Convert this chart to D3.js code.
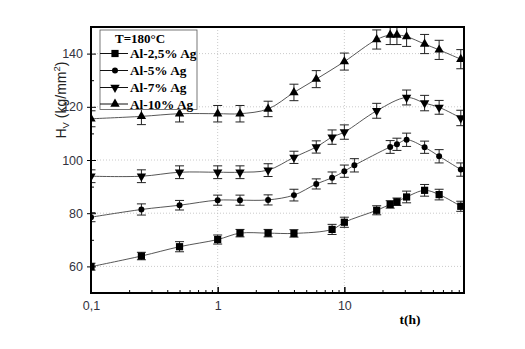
<!DOCTYPE html>
<html><head><meta charset="utf-8">
<script src="https://cdn.jsdelivr.net/npm/d3@7"></script>
<style>
html,body{margin:0;padding:0;background:#fff;}
svg{display:block;}
</style>
</head><body>
<svg id="chart" width="525" height="349"></svg>
<script>
// ---- data ----
const seriesNames = ["Al-2,5% Ag", "Al-5% Ag", "Al-7% Ag", "Al-10% Ag"];
const legendTitle = "T=180°C";

const t25 = [0.1, 0.25, 0.5, 1, 1.5, 2.5, 4, 8, 10, 18, 23, 26, 31, 43, 56, 83];
const hv25 = [59.9, 63.9, 67.4, 70.1, 72.5, 72.5, 72.4, 73.9, 76.6, 81.1, 83.3, 84.3, 86.1, 88.6, 87.0, 82.6];
const err25 = [1.3, 1.4, 1.9, 1.7, 1.4, 1.4, 1.4, 1.9, 1.9, 1.7, 1.4, 1.4, 2.2, 2.2, 2.0, 1.9];

const t5 = [0.1, 0.25, 0.5, 1, 1.5, 2.5, 4, 6, 8, 10, 12, 23, 26, 31, 43, 56, 83];
const hv5 = [78.5, 81.4, 83.0, 84.9, 84.9, 85.0, 86.8, 91.0, 93.3, 95.8, 98.0, 104.9, 105.9, 107.6, 104.8, 101.4, 96.4];
const err5 = [1.7, 2.1, 1.8, 1.9, 1.9, 1.9, 2.2, 1.9, 2.2, 2.3, 2.5, 2.4, 2.3, 2.5, 2.3, 2.5, 2.5];

const t7 = [0.1, 0.25, 0.5, 1, 1.5, 2.5, 4, 6, 8, 10, 18, 31, 43, 56, 83];
const hv7 = [93.9, 93.9, 95.4, 95.4, 95.4, 96.2, 101.0, 104.9, 108.6, 110.5, 118.5, 123.5, 121.4, 119.8, 115.8];
const err7 = [2.4, 2.4, 2.4, 2.4, 2.4, 2.4, 2.3, 2.3, 2.7, 2.7, 2.8, 2.8, 2.9, 2.6, 2.9];

const t10 = [0.1, 0.25, 0.5, 1, 1.5, 2.5, 4, 6, 10, 18, 23, 26, 31, 43, 56, 83];
const hv10 = [115.5, 116.4, 117.4, 117.4, 117.4, 119.2, 125.4, 130.4, 137.0, 145.3, 147.0, 147.0, 146.4, 143.6, 141.4, 137.9];
const err10 = [3.0, 3.1, 3.1, 3.1, 3.1, 2.9, 3.1, 3.2, 3.2, 3.6, 3.6, 3.6, 3.7, 3.6, 3.6, 3.6];

const yMajorTicks = [60, 80, 100, 120, 140];
const yMinorTicks = [70, 90, 110, 130];
const xMajorTicks = [0.1, 1, 10];
const xTickLabels = ["0,1", "1", "10"];
const xMinorTicks = [0.2,0.3,0.4,0.5,0.6,0.7,0.8,0.9,2,3,4,5,6,7,8,9,20,30,40,50,60,70,80];

// ---- layout ----
const M = {left: 91, top: 27, right: 464, bottom: 293};
const svg = d3.select("#chart");
const x = d3.scaleLog().domain([0.1, 88]).range([M.left, M.right]);
const y = d3.scaleLinear().domain([50, 150]).range([M.bottom, M.top]);

const series = [
  {name: seriesNames[0], t: t25, v: hv25, e: err25, sym: d3.symbolSquare, size: 52, rot: 0},
  {name: seriesNames[1], t: t5, v: hv5, e: err5, sym: d3.symbolCircle, size: 28, rot: 0},
  {name: seriesNames[2], t: t7, v: hv7, e: err7, sym: d3.symbolTriangle, size: 38, rot: 180},
  {name: seriesNames[3], t: t10, v: hv10, e: err10, sym: d3.symbolTriangle, size: 38, rot: 0}
];

svg.append("clipPath").attr("id", "clip").append("rect")
  .attr("x", M.left).attr("y", M.top).attr("width", M.right - M.left).attr("height", M.bottom - M.top);

// grid
const grid = svg.append("g").attr("stroke", "#bdbdbd").attr("stroke-width", 0.8).attr("stroke-dasharray", "1,2");
grid.selectAll(".gy").data(yMajorTicks).join("line")
  .attr("x1", M.left).attr("x2", M.right).attr("y1", d => y(d)).attr("y2", d => y(d));
grid.selectAll(".gx").data([1, 10]).join("line")
  .attr("y1", M.top).attr("y2", M.bottom).attr("x1", d => x(d)).attr("x2", d => x(d));

const plot = svg.append("g").attr("clip-path", "url(#clip)");
const line = d3.line().x(d => x(d[0])).y(d => y(d[1])).curve(d3.curveCatmullRom.alpha(0.5));

series.forEach(s => {
  const pts = s.t.map((t, i) => [t, s.v[i], s.e[i]]);
  plot.append("path").datum(pts).attr("d", line)
    .attr("fill", "none").attr("stroke", "#444").attr("stroke-width", 0.9);
  const eg = plot.append("g").attr("stroke", "#222").attr("stroke-width", 1);
  pts.forEach(p => {
    const cx = x(p[0]), y1 = y(p[1] + p[2]), y2 = y(p[1] - p[2]);
    eg.append("line").attr("x1", cx).attr("x2", cx).attr("y1", y1).attr("y2", y2);
    eg.append("line").attr("x1", cx - 4.5).attr("x2", cx + 4.5).attr("y1", y1).attr("y2", y1);
    eg.append("line").attr("x1", cx - 4.5).attr("x2", cx + 4.5).attr("y1", y2).attr("y2", y2);
  });
  plot.append("g").selectAll("path").data(pts).join("path")
    .attr("d", d3.symbol().type(s.sym).size(s.size))
    .attr("transform", d => `translate(${x(d[0])},${y(d[1])}) rotate(${s.rot})`)
    .attr("fill", "#000");
});

// axes
const labelFont = "'Liberation Sans', Arial, sans-serif";
const yAxis = d3.axisLeft(y).tickValues(yMajorTicks).tickSize(4).tickPadding(4);
const gy = svg.append("g").attr("transform", `translate(${M.left},0)`).call(yAxis);
gy.select(".domain").remove();
gy.selectAll("text").attr("font-family", labelFont).attr("font-size", 12.5).attr("fill", "#333340");
const gyIn = svg.append("g").attr("transform", `translate(${M.left},0)`)
  .call(d3.axisRight(y).tickValues(yMajorTicks).tickSize(5).tickFormat(""));
gyIn.select(".domain").remove();
const gyMin = svg.append("g").attr("transform", `translate(${M.left},0)`)
  .call(d3.axisRight(y).tickValues(yMinorTicks).tickSize(3).tickFormat(""));
gyMin.select(".domain").remove();

const xAxis = d3.axisBottom(x).tickValues(xMajorTicks).tickSize(0).tickPadding(8)
  .tickFormat((d, i) => xTickLabels[i]);
const gx = svg.append("g").attr("transform", `translate(0,${M.bottom})`).call(xAxis);
gx.select(".domain").remove();
gx.selectAll("text").attr("font-family", labelFont).attr("font-size", 12.5).attr("fill", "#333340");
const gxIn = svg.append("g").attr("transform", `translate(0,${M.bottom})`)
  .call(d3.axisTop(x).tickValues([1, 10]).tickSize(6).tickFormat(""));
gxIn.select(".domain").remove();
gxIn.selectAll("line").attr("stroke-width", 1.5);
const gxMin = svg.append("g").attr("transform", `translate(0,${M.bottom})`)
  .call(d3.axisTop(x).tickValues(xMinorTicks).tickSize(3).tickFormat(""));
gxMin.select(".domain").remove();

// frame
svg.append("rect").attr("x", M.left).attr("y", M.top)
  .attr("width", M.right - M.left).attr("height", M.bottom - M.top)
  .attr("fill", "none").attr("stroke", "#000").attr("stroke-width", 2);

// axis titles
const yt = svg.append("text").attr("transform", "translate(66,100) rotate(-90)")
  .attr("text-anchor", "middle").attr("font-family", labelFont).attr("font-size", 14).attr("fill", "#222");
yt.append("tspan").text("H");
yt.append("tspan").attr("font-size", 9.5).attr("dy", 3).text("V");
yt.append("tspan").attr("dy", -3).text(" (kg/mm");
yt.append("tspan").attr("font-size", 9.5).attr("dy", -6).text("2");
yt.append("tspan").attr("dy", 6).text(")");

const serif = "'Liberation Serif', 'Times New Roman', serif";
svg.append("text").attr("x", 410).attr("y", 324).attr("text-anchor", "middle")
  .attr("font-family", serif).attr("font-weight", "bold").attr("font-size", 13.5).text("t(h)");

// legend
const lg = svg.append("g");
lg.append("rect").attr("x", 100).attr("y", 30).attr("width", 97).attr("height", 79.5)
  .attr("fill", "#fff").attr("stroke", "#555").attr("stroke-width", 0.8);
lg.append("text").attr("x", 115).attr("y", 43).attr("font-family", serif).attr("font-weight", "bold")
  .attr("font-size", 13).text(legendTitle);
const rowY = [53.5, 70.5, 87.5, 104];
series.forEach((s, i) => {
  const yy = rowY[i];
  lg.append("line").attr("x1", 100).attr("x2", 128).attr("y1", yy).attr("y2", yy)
    .attr("stroke", "#111").attr("stroke-width", 1);
  lg.append("path").attr("d", d3.symbol().type(s.sym).size(s.size))
    .attr("transform", `translate(115,${yy}) rotate(${s.rot})`).attr("fill", "#000");
  lg.append("text").attr("x", 130).attr("y", yy + 4.5).attr("font-family", serif)
    .attr("font-weight", "bold").attr("font-size", 13.3).text(s.name);
});
</script>
</body></html>
